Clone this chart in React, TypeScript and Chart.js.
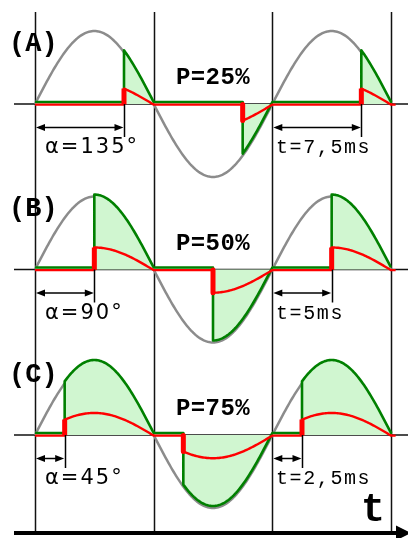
import { useEffect, useRef } from 'react';
import { Chart, registerables } from 'chart.js';

Chart.register(...registerables);

// Phase-angle control of a sine supply: three firing angles
const panelNames = ['(A)', '(B)', '(C)'];
const firingAngles = [135, 90, 45]; // degrees after each zero crossing
const powerLabels = ['P=25%', 'P=50%', 'P=75%'];
const delayLabels = ['t=7,5ms', 't=5ms', 't=2,5ms'];
const halfCycleStarts = [0, 180, 360]; // degrees
const cycleEnd = 540; // degrees
const supplyPeak = 1; // grey supply / green switched voltage
const loadPeak = 0.31; // red load trace, relative to supply
const timeAxisLabel = 't';

// Canvas geometry
const W = 408;
const H = 538;
const PX_PER_UNIT = 73;
const PX_PER_DEG = 356 / 540;
const X_MIN = -35 / PX_PER_DEG;
const X_MAX = X_MIN + W / PX_PER_DEG;
const Y_MAX = 104 / PX_PER_UNIT;
const Y_MIN = Y_MAX - H / PX_PER_UNIT;
const panelBase = [0, -165.5 / PX_PER_UNIT, -331 / PX_PER_UNIT];
const GREEN_LIFT = 2 / PX_PER_UNIT;
const RED_DROP = 0.6 / PX_PER_UNIT;
const STEP = 2;

const rad = (d: number) => (d * Math.PI) / 180;

type Pt = { x: number; y: number | null };

function supplyTrace(base: number): Pt[] {
  const pts: Pt[] = [];
  for (let d = 0; d <= cycleEnd; d += STEP) pts.push({ x: d, y: base + supplyPeak * Math.sin(rad(d)) });
  return pts;
}

function switchedTrace(base: number, amp: number, alpha: number, shift: number, tail: number): Pt[] {
  const pts: Pt[] = [];
  for (const start of halfCycleStarts) {
    const fire = start + alpha;
    pts.push({ x: start, y: base + shift });
    pts.push({ x: fire, y: base + shift });
    for (let d = fire; d < start + 180; d += STEP) {
      pts.push({ x: d, y: base + shift + amp * Math.sin(rad(d)) });
    }
    pts.push({ x: start + 180, y: base + shift });
  }
  if (tail > cycleEnd) pts.push({ x: tail, y: base + shift });
  return pts;
}

function stepTrace(base: number, amp: number, alpha: number, shift: number): Pt[] {
  const pts: Pt[] = [];
  for (const start of halfCycleStarts) {
    const fire = start + alpha;
    pts.push({ x: fire, y: base + shift });
    pts.push({ x: fire, y: base + shift + amp * Math.sin(rad(fire)) });
    pts.push({ x: fire, y: null });
  }
  return pts;
}

function drawText(
  ctx: CanvasRenderingContext2D,
  text: string,
  x: number,
  y: number,
  font: string,
  spacing: number,
  align: CanvasTextAlign = 'left'
) {
  ctx.save();
  ctx.font = font;
  (ctx as any).letterSpacing = `${spacing}px`;
  ctx.textAlign = align;
  ctx.textBaseline = 'middle';
  ctx.fillStyle = '#000';
  ctx.fillText(text, x, y);
  ctx.restore();
}

function arrowHead(ctx: CanvasRenderingContext2D, tipX: number, y: number, dir: number, len: number, half: number) {
  ctx.beginPath();
  ctx.moveTo(tipX, y);
  ctx.lineTo(tipX - dir * len, y - half);
  ctx.lineTo(tipX - dir * len, y + half);
  ctx.closePath();
  ctx.fill();
}

const guides = {
  id: 'guides',
  beforeDatasetsDraw(chart: any) {
    const { ctx } = chart;
    const xs = chart.scales.x;
    const ys = chart.scales.y;
    ctx.save();
    ctx.strokeStyle = '#111';
    ctx.lineWidth = 1.5;
    // half-cycle markers
    for (const d of [0, 180, 360, 540]) {
      const px = Math.round(xs.getPixelForValue(d)) + 0.5;
      ctx.beginPath();
      ctx.moveTo(px, 12);
      ctx.lineTo(px, 532);
      ctx.stroke();
    }
    // zero lines
    for (const b of panelBase) {
      const py = ys.getPixelForValue(b);
      ctx.beginPath();
      ctx.moveTo(14, py);
      ctx.lineTo(W, py);
      ctx.stroke();
    }
    ctx.restore();
  },
  afterDatasetsDraw(chart: any) {
    const { ctx } = chart;
    const xs = chart.scales.x;
    const ys = chart.scales.y;
    ctx.save();
    ctx.fillStyle = '#000';
    ctx.strokeStyle = '#000';
    panelBase.forEach((b, i) => {
      const py = ys.getPixelForValue(b);
      const alpha = firingAngles[i];
      drawText(ctx, panelNames[i], 9, py - 60, 'bold 27px "Liberation Mono"', 0);
      drawText(ctx, powerLabels[i], xs.getPixelForValue(270), py - 26, 'bold 24px "Liberation Mono"', 0.4, 'center');

      // firing-delay dimensions, first and last cycle
      for (const start of [0, 360]) {
        const x0 = xs.getPixelForValue(start);
        const x1 = xs.getPixelForValue(start + alpha);
        const ay = py + 23.5;
        ctx.lineWidth = 1.5;
        ctx.beginPath();
        ctx.moveTo(Math.round(x1) + 0.5, py);
        ctx.lineTo(Math.round(x1) + 0.5, py + 33);
        ctx.stroke();
        ctx.beginPath();
        ctx.moveTo(x0 + 4, ay);
        ctx.lineTo(x1 - 4, ay);
        ctx.stroke();
        arrowHead(ctx, x0 + 1, ay, -1, 9, 3.5);
        arrowHead(ctx, x1 - 0.5, ay, 1, 9, 3.5);
      }
      drawText(ctx, `α=${alpha}°`, 45, py + 44, '21px "DejaVu Sans"', 2);
      drawText(ctx, delayLabels[i], 276, py + 44, '20px "Liberation Mono"', 1.6);
    });

    // time axis
    ctx.lineWidth = 4;
    ctx.beginPath();
    ctx.moveTo(14, 533);
    ctx.lineTo(398, 533);
    ctx.stroke();
    arrowHead(ctx, 411, 533, 1, 15, 7.5);
    drawText(ctx, timeAxisLabel, 373, 511, 'bold 40px "Liberation Mono"', 0, 'center');
    ctx.restore();
  },
};

export default function App() {
  const ref = useRef<HTMLCanvasElement | null>(null);

  useEffect(() => {
    if (!ref.current) return;
    const datasets: any[] = [];
    panelBase.forEach((b, i) => {
      const alpha = firingAngles[i];
      datasets.push({
        data: stepTrace(b, loadPeak, alpha, -RED_DROP),
        borderColor: '#ff0000',
        borderWidth: 5,
        borderCapStyle: 'butt',
        spanGaps: false,
        order: 1,
      });
      datasets.push({
        data: switchedTrace(b, loadPeak, alpha, -RED_DROP, 547),
        borderColor: '#ff0000',
        borderWidth: 2.4,
        order: 2,
      });
      datasets.push({
        data: switchedTrace(b, supplyPeak, alpha, GREEN_LIFT, cycleEnd),
        borderColor: '#008000',
        borderWidth: 2.6,
        backgroundColor: 'rgb(208,246,208)',
        fill: { value: b },
        order: 3,
      });
      datasets.push({
        data: supplyTrace(b),
        borderColor: '#8c8c8c',
        borderWidth: 2.5,
        order: 4,
      });
    });

    const chart = new Chart(ref.current, {
      type: 'line',
      data: { datasets },
      options: {
        animation: false,
        responsive: false,
        devicePixelRatio: 1,
        layout: { padding: 0 },
        elements: { point: { radius: 0, hoverRadius: 0 }, line: { tension: 0, borderJoinStyle: 'round' } },
        plugins: { legend: { display: false }, tooltip: { enabled: false } },
        events: [],
        scales: {
          x: { type: 'linear', min: X_MIN, max: X_MAX, display: false },
          y: { type: 'linear', min: Y_MIN, max: Y_MAX, display: false },
        },
      },
      plugins: [guides],
    });
    return () => chart.destroy();
  }, []);

  return (
    <div style={{ position: 'fixed', left: 0, top: 0, width: W, height: H, background: '#fff' }}>
      <canvas ref={ref} width={W} height={H} style={{ display: 'block', width: W, height: H }} />
    </div>
  );
}
